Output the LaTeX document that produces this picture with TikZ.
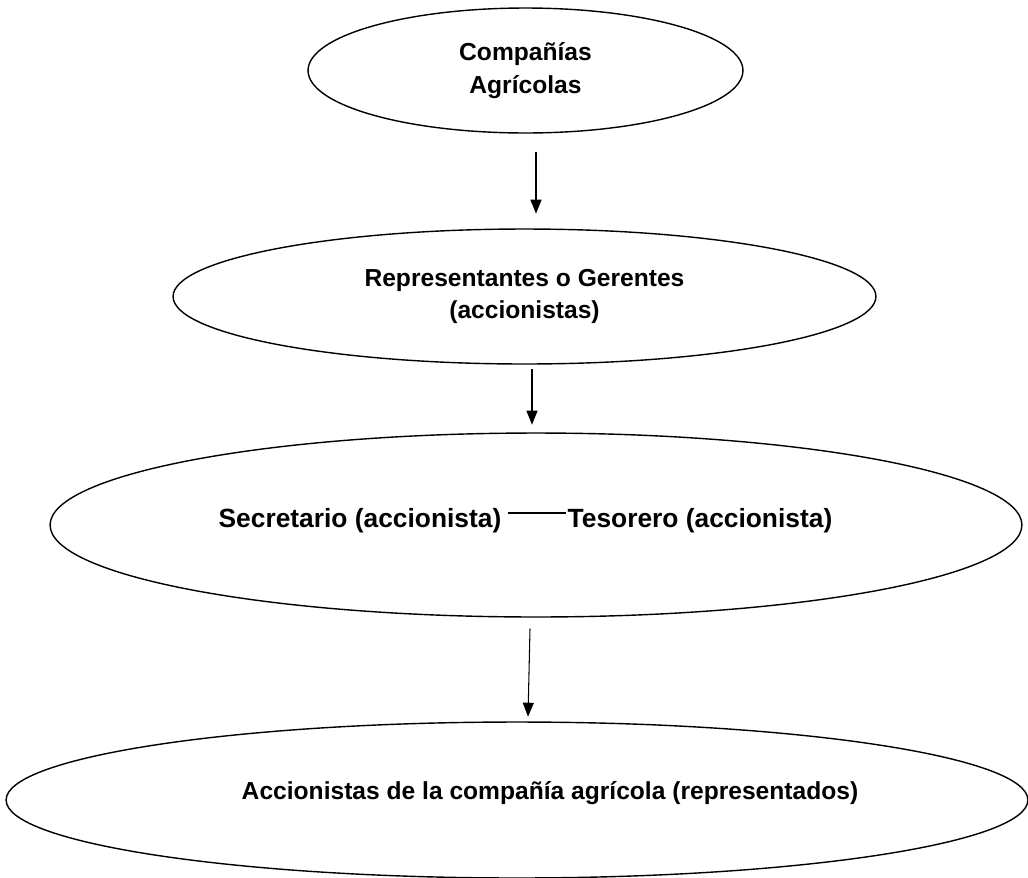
\documentclass[tikz,border=0pt]{standalone}
\usepackage{fontspec}
\setmainfont{Liberation Sans}
\usetikzlibrary{shapes.geometric,arrows.meta}
\begin{document}
\begin{tikzpicture}[x=.02cm, y=-.02cm, every node/.style={font=\bfseries\fontsize{14}{18.7}\selectfont, align=center}]
  \tikzset{oval/.style={draw, thick, ellipse, inner sep=0pt},
    flecha/.style={semithick, -{Triangle[length=.28cm,width=.22cm]}},
    cargo/.style={inner sep=0pt, font=\bfseries\fontsize{15}{18}\selectfont}}
  \useasboundingbox (0,0) rectangle (1028,877);
  \coordinate (C1) at (525.5,70.5);
  \coordinate (C2) at (524.5,296.5);
  \coordinate (C3) at (536,525);
  \coordinate (C4) at (517,800);
  \node[oval, minimum width=8.7cm, minimum height=2.5cm] (comp) at (C1) {Compañías\\Agrícolas};
  \node[oval, minimum width=14.06cm, minimum height=2.7cm] (rep) at (C2) {Representantes o Gerentes\\(accionistas)};
  \node[oval, minimum width=19.44cm, minimum height=3.68cm] (dir) at (C3) {};
  \node[oval, minimum width=20.44cm, minimum height=3.12cm] (acc) at (C4) {};
  \node[cargo] (sec) at (360,521) {Secretario (accionista)};
  \node[cargo] (tes) at (700,521) {Tesorero (accionista)};
  \node[inner sep=0pt] (accl) at (550,793) {Accionistas de la compañía agrícola (representados)};
  \draw[semithick] ([xshift=.12cm, yshift=.16cm]sec.east) -- ([xshift=-.02cm, yshift=.16cm]tes.west);
  \draw[flecha] (comp.south) ++(10.5,18) -- ++(0,62);
  \draw[flecha] (rep.south) ++(7.5,4) -- ++(0,56);
  \draw[flecha] (dir.south) ++(-6,11) -- ++(-2,88);
\end{tikzpicture}
\end{document}
